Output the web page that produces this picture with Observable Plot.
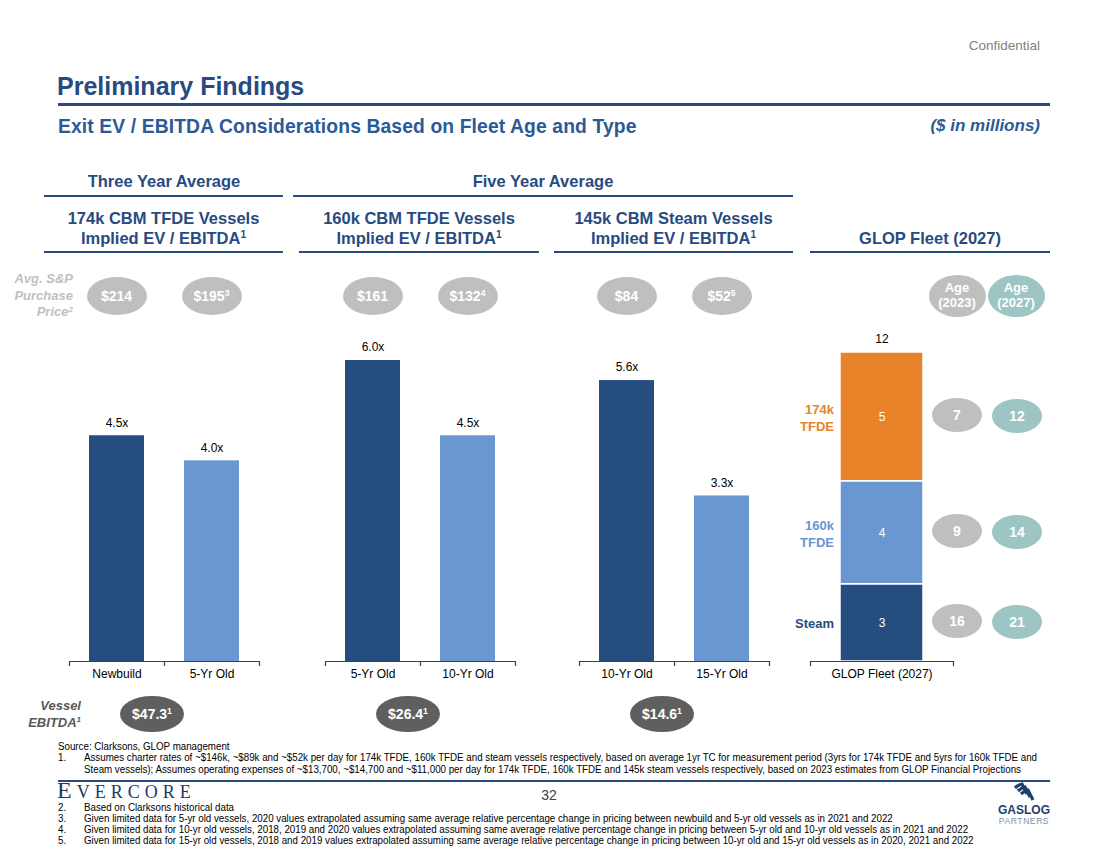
<!DOCTYPE html>
<html><head><meta charset="utf-8">
<script src="https://cdn.jsdelivr.net/npm/d3@7"></script>
<script src="https://cdn.jsdelivr.net/npm/@observablehq/plot@0.6"></script>
<style>
body{margin:0;background:#fff;font-family:"Liberation Sans",Arial,sans-serif;}
#slide{position:relative;width:1100px;height:849px;overflow:hidden;background:#fff;}
.t{position:absolute;white-space:nowrap;line-height:1.15;}
.ell{position:absolute;border-radius:50%;display:flex;align-items:center;justify-content:center;color:#fff;font-weight:bold;text-align:center;line-height:1.15;}
.hr{position:absolute;}
.fn{position:absolute;white-space:nowrap;line-height:10px;font-size:10px;color:#000;font-family:"Liberation Sans",Arial,sans-serif;transform-origin:0 50%;}
.sup{font-size:62%;vertical-align:0.55em;line-height:0;}
.plotbox{position:absolute;}
</style></head><body><div id="slide"></div>
<script>
// ---------------- data ----------------
const sectionTitles = ["Three Year Average", "Five Year Average"];
const panelTitles = ["174k CBM TFDE Vessels", "160k CBM TFDE Vessels", "145k CBM Steam Vessels"];
const barCategories = [["Newbuild", "5-Yr Old"], ["5-Yr Old", "10-Yr Old"], ["10-Yr Old", "15-Yr Old"]];
const evEbitdaMultiples = [[4.5, 4.0], [6.0, 4.5], [5.6, 3.3]];
const purchasePrices = [[214, 195], [161, 132], [84, 52]];
const purchaseNoteRefs = [["", "3"], ["", "4"], ["", "5"]];
const vesselEbitda = [47.3, 26.4, 14.6];
const fleetCategory = "GLOP Fleet (2027)";
const fleetTypes = ["Steam", "160k TFDE", "174k TFDE"];
const fleetCounts = [3, 4, 5];
const fleetAge2023 = [16, 9, 7];
const fleetAge2027 = [21, 14, 12];
const footnote1 = [
  "Assumes charter rates of ~$146k, ~$89k and ~$52k per day for 174k TFDE, 160k TFDE and steam vessels respectively, based on average 1yr TC for measurement period (3yrs for 174k TFDE and 5yrs for 160k TFDE and",
  "Steam vessels); Assumes operating expenses of ~$13,700, ~$14,700 and ~$11,000 per day for 174k TFDE, 160k TFDE and 145k steam vessels respectively, based on 2023 estimates from GLOP Financial Projections"
];
const footnotesLower = [
  ["2.", "Based on Clarksons historical data"],
  ["3.", "Given limited data for 5-yr old vessels, 2020 values extrapolated assuming same average relative percentage change in pricing between newbuild and 5-yr old vessels as in 2021 and 2022"],
  ["4.", "Given limited data for 10-yr old vessels, 2018, 2019 and 2020 values extrapolated assuming same average relative percentage change in pricing between 5-yr old and 10-yr old vessels as in 2021 and 2022"],
  ["5.", "Given limited data for 15-yr old vessels, 2018 and 2019 values extrapolated assuming same average relative percentage change in pricing between 10-yr old and 15-yr old vessels as in 2020, 2021 and 2022"]
];

// ---------------- style ----------------
const FONT = '"Liberation Sans", Arial, sans-serif';
const C = {navy:"#284B7F", blue2:"#2C5A97", dark:"#264D80", light:"#6A96D2", orange:"#E8832A",
           grey:"#BFBFBF", teal:"#9CC5C3", darkGrey:"#5F5F5F", axis:"#404040"};
const fleetColors = [C.dark, C.light, C.orange];
const fleetLabels = ["Steam", "160k\nTFDE", "174k\nTFDE"];

const slide = document.getElementById("slide");
function txt(html, x, y, style = {}, anchor = "start", cls = "t") {
  const d = document.createElement("div");
  d.className = cls;
  d.innerHTML = html;
  d.style.left = x + "px";
  d.style.top = y + "px";
  const tx = anchor === "middle" ? "-50%" : anchor === "end" ? "-100%" : "0";
  d.style.transform = `translate(${tx},-50%)`;
  Object.assign(d.style, style);
  if (anchor === "middle") d.style.textAlign = "center";
  if (anchor === "end") d.style.textAlign = "right";
  slide.appendChild(d);
  return d;
}
function hr(x1, x2, y, h, color) {
  const d = document.createElement("div");
  d.className = "hr";
  Object.assign(d.style, {left: x1 + "px", top: (y - h / 2) + "px", width: (x2 - x1) + "px", height: h + "px", background: color});
  slide.appendChild(d);
}
function ell(html, cx, cy, rx, ry, bg, fs) {
  const d = document.createElement("div");
  d.className = "ell";
  d.innerHTML = `<span>${html}</span>`;
  Object.assign(d.style, {left: (cx - rx) + "px", top: (cy - ry) + "px", width: 2 * rx + "px", height: 2 * ry + "px", background: bg, fontSize: fs + "px"});
  slide.appendChild(d);
}
const sup = s => s ? `<span class="sup">${s}</span>` : "";

// ---------------- header ----------------
txt("Confidential", 1040, 46, {fontSize: "13.5px", color: "#7F7F7F"}, "end");
txt("Preliminary Findings", 57, 86, {fontSize: "25px", fontWeight: "bold", color: C.navy});
hr(58, 1050, 104, 3, C.navy);
txt("Exit EV / EBITDA Considerations Based on Fleet Age and Type", 58, 127, {fontSize: "19.3px", fontWeight: "bold", color: C.blue2, letterSpacing: "0.12px"});
txt("($ in millions)", 1040, 126, {fontSize: "17px", fontWeight: "bold", fontStyle: "italic", color: C.blue2}, "end");

// section headers
const H = {fontSize: "16.5px", fontWeight: "bold", color: C.navy};
txt(sectionTitles[0], 164, 181, H, "middle");
txt(sectionTitles[1], 543, 181, H, "middle");
hr(44, 283, 196, 1.5, C.navy);
hr(293, 793, 196, 1.5, C.navy);

const panelLeft = [69, 325, 579];
const panelW = 190;
const panelCenters = panelLeft.map(l => l + panelW / 2);
const titleLines = [[44, 283], [299, 539], [554, 793]];
panelTitles.forEach((t, i) => {
  const c = (titleLines[i][0] + titleLines[i][1]) / 2;
  txt(t, c, 218, H, "middle");
  txt("Implied EV / EBITDA" + sup("1"), c, 238, H, "middle");
  hr(titleLines[i][0], titleLines[i][1], 252, 1.5, C.navy);
});
txt(fleetCategory, 930, 238, H, "middle");
hr(810, 1050, 252, 1.5, C.navy);

// row labels
txt("Avg. S&amp;P<br>Purchase<br>Price" + sup("2"), 73, 296, {fontSize: "13px", fontWeight: "bold", fontStyle: "italic", color: "#BFBFBF", lineHeight: "16.5px"}, "end");
txt("Vessel<br>EBITDA" + sup("1"), 81, 714, {fontSize: "13px", fontWeight: "bold", fontStyle: "italic", color: "#595959", lineHeight: "16.5px"}, "end");

// ---------------- bar panels ----------------
const M = 6;
const PLOT_TOP = 330;
panelLeft.forEach((px, i) => {
  const cats = barCategories[i];
  const data = cats.map((c, j) => ({cat: c, v: evEbitdaMultiples[i][j], fill: j === 0 ? C.dark : C.light}));
  const bw = panelW / cats.length;
  const last = cats[cats.length - 1];
  const plot = Plot.plot({
    width: panelW + 2 * M, height: 361,
    marginTop: 30, marginBottom: 30, marginLeft: M, marginRight: M,
    style: {background: "transparent", fontFamily: FONT, fontSize: "12px", color: "#000", overflow: "visible"},
    x: {domain: cats, padding: 0, label: null, tickSize: 0, tickPadding: 8},
    y: {domain: [0, 6], axis: null},
    marks: [
      Plot.barY(data, {x: "cat", y: "v", fill: "fill", insetLeft: 20, insetRight: 20}),
      Plot.text(data, {x: "cat", y: "v", text: d => d.v.toFixed(1) + "x", dy: -13, fontSize: 12, fill: "#000"}),
      Plot.ruleY([0], {stroke: C.axis, strokeWidth: 1.2}),
      Plot.ruleX(cats, {x: d => d, y1: 0, y2: -0.1, dx: -bw / 2, stroke: C.axis, strokeWidth: 1.2}),
      Plot.ruleX([last], {x: d => d, y1: 0, y2: -0.1, dx: bw / 2, stroke: C.axis, strokeWidth: 1.2})
    ]
  });
  const box = document.createElement("div");
  box.className = "plotbox";
  box.style.left = (px - M) + "px";
  box.style.top = PLOT_TOP + "px";
  box.appendChild(plot);
  slide.appendChild(box);
  const xs = plot.scale("x");
  cats.forEach((c, j) => {
    const cx = px - M + xs.apply(c) + xs.bandwidth / 2;
    ell("$" + purchasePrices[i][j] + sup(purchaseNoteRefs[i][j]), cx, 296, 30, 19, C.grey, 14);
  });
  ell("$" + vesselEbitda[i].toFixed(1) + sup("1"), panelCenters[i] - 12, 714, 32, 18, C.darkGrey, 14);
});

// ---------------- fleet stacked bar ----------------
const fleetData = fleetTypes.map((t, i) => ({group: fleetCategory, type: t, label: fleetLabels[i], n: fleetCounts[i], color: fleetColors[i]}));
const fleetTotal = d3.sum(fleetCounts);
const FL = 45, FR = 6, FW = 143, FTOP = 322;
const fleetPlot = Plot.plot({
  width: FL + FW + FR, height: 369,
  marginTop: 30, marginBottom: 30, marginLeft: FL, marginRight: FR,
  style: {background: "transparent", fontFamily: FONT, fontSize: "12px", color: "#000", overflow: "visible"},
  x: {domain: [fleetCategory], padding: 0, label: null, tickSize: 0, tickPadding: 8},
  y: {domain: [0, 12], axis: null},
  marks: [
    Plot.barY(fleetData, Plot.stackY({x: "group", y: "n", fill: "color", stroke: "#fff", strokeWidth: 1.5, insetLeft: 30, insetRight: 30})),
    Plot.text(fleetData, Plot.stackY({x: "group", y: "n", text: d => String(d.n), fill: "#fff", fontSize: 12})),
    Plot.text(fleetData, Plot.stackY({x: "group", y: "n", text: "label", fill: "color", fontSize: 13, fontWeight: "bold", textAnchor: "end", dx: -48, lineHeight: 1.3})),
    Plot.text([{group: fleetCategory, total: fleetTotal}], {x: "group", y: "total", text: d => String(d.total), dy: -13, fontSize: 12, fill: "#000"}),
    Plot.ruleY([0], {stroke: C.axis, strokeWidth: 1.2}),
    Plot.ruleX([fleetCategory], {x: d => d, y1: 0, y2: -0.2, dx: -FW / 2, stroke: C.axis, strokeWidth: 1.2}),
    Plot.ruleX([fleetCategory], {x: d => d, y1: 0, y2: -0.2, dx: FW / 2, stroke: C.axis, strokeWidth: 1.2})
  ]
});
const fbox = document.createElement("div");
fbox.className = "plotbox";
fbox.style.left = (810 - FL) + "px";
fbox.style.top = FTOP + "px";
fbox.appendChild(fleetPlot);
slide.appendChild(fbox);
const fy = fleetPlot.scale("y");
let cum = 0;
fleetCounts.forEach((n, i) => {
  const cy = FTOP + fy.apply(cum + n / 2);
  cum += n;
  ell(String(fleetAge2023[i]), 957, cy - 1.5, 25, 17, C.grey, 14);
  ell(String(fleetAge2027[i]), 1017, cy, 25, 17, C.teal, 14);
});
ell("Age<br>(2023)", 957, 296, 28.5, 21, C.grey, 13);
ell("Age<br>(2027)", 1016, 296, 28.5, 21, C.teal, 13);

// ---------------- footer ----------------
function fn(text, x, y) {
  const d = document.createElement("div");
  d.className = "fn";
  d.textContent = text;
  d.style.left = x + "px";
  d.style.top = (y - 5) + "px";
  slide.appendChild(d);
  return d;
}
const fnLines = [];
fnLines.push(fn("Source: Clarksons, GLOP management", 58, 747));
fnLines.push(fn("1.", 58, 758));
const fnFirst = fn(footnote1[0], 84, 758);
fnLines.push(fnFirst);
fnLines.push(fn(footnote1[1], 84, 770));
footnotesLower.forEach(([n, t], k) => {
  const y = 808 + k * 11;
  fnLines.push(fn(n, 58, y));
  fnLines.push(fn(t, 84, y));
});
const k = 953 / fnFirst.getBoundingClientRect().width;
fnLines.forEach(d => d.style.transform = `scaleX(${k})`);
hr(58, 1050, 781, 2, C.navy);
txt("32", 549, 795, {fontSize: "14px", color: "#404040"}, "middle");
txt('<span style="font-size:24px">E</span><span style="font-size:18px">VERCORE</span>', 57, 791,
    {fontFamily: '"Liberation Serif", "DejaVu Serif", serif', color: "#1F3864", letterSpacing: "5px", lineHeight: "16px"});
// GasLog Partners logo
const logo = document.createElement("div");
logo.style.cssText = "position:absolute;left:994px;top:780px;width:60px;height:46px;";
logo.innerHTML = `<svg width="60" height="46" viewBox="0 0 60 46" style="overflow:visible">
  <g fill="none" stroke="#1F3F6E" stroke-width="3.2" stroke-linecap="butt">
    <path d="M21,8 q3,-3 7,-4 l5,10"/>
    <path d="M24,11 q3,-3 7,-4 l5,10"/>
    <path d="M27,14 q3,-3 7,-4 l5,10"/>
  </g>
  <text x="30" y="34" text-anchor="middle" font-family="Liberation Sans, Arial, sans-serif" font-weight="bold" font-size="12" fill="#1F3F6E">GASLOG</text>
  <text x="30" y="44" text-anchor="middle" font-family="Liberation Sans, Arial, sans-serif" font-size="8.5" letter-spacing="0.6" fill="#7D92AE">PARTNERS</text>
</svg>`;
slide.appendChild(logo);
</script></body></html>
